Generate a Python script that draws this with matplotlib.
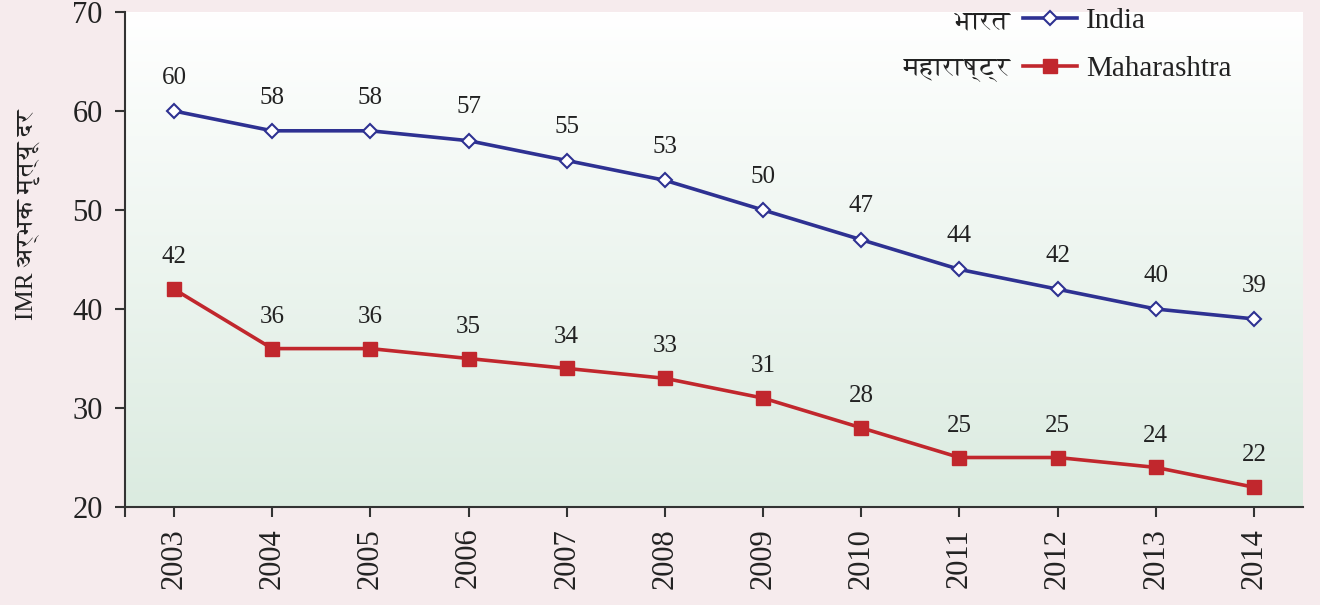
import numpy as np
import matplotlib
matplotlib.use("Agg")
import matplotlib.pyplot as plt
from matplotlib import font_manager
from matplotlib.ft2font import FT2Font
from matplotlib.colors import LinearSegmentedColormap

years = [2003, 2004, 2005, 2006, 2007, 2008, 2009, 2010, 2011, 2012, 2013, 2014]
india = [60, 58, 58, 57, 55, 53, 50, 47, 44, 42, 40, 39]
maharashtra = [42, 36, 36, 35, 34, 33, 31, 28, 25, 25, 24, 22]
yticks = [20, 30, 40, 50, 60, 70]

# look for a font with Devanagari glyphs, prefer serif / non-mono ones
found = []
for f in font_manager.fontManager.ttflist:
    try:
        if 0x092D in FT2Font(f.fname).get_charmap():
            found.append(f.name)
    except Exception:
        pass

def rank(name):
    n = name.lower()
    score = 0
    if "mono" in n:
        score += 10
    if "serif" not in n:
        score += 1
    return score

found = sorted(set(found), key=rank)
serif = "Liberation Serif"
hindi_family = [serif] + found[:1] + ["DejaVu Sans"]

plt.rcParams['font.family'] = [serif, "DejaVu Sans"]

navy = "#2e3192"
red = "#c1272d"
axis_col = "#333333"
txt = "#222222"

fig = plt.figure(figsize=(13.2, 6.05), dpi=100)
fig.patch.set_facecolor("#f6ebed")
ax = fig.add_axes([125 / 1320, 1 - 507 / 605, (1303 - 125) / 1320, (507 - 12) / 605])

# gradient background: white at top, pale green at bottom
cmap = LinearSegmentedColormap.from_list("bg", ["#dbebe0", "#ffffff"])
grad = np.linspace(0, 1, 256).reshape(-1, 1)
ax.imshow(grad, cmap=cmap, aspect="auto", origin="lower",
          extent=[2002.5, 2014.5, 20, 70], zorder=0)

ax.plot(years, india, color=navy, lw=2.6, marker="D", markersize=7,
        markerfacecolor="white", markeredgecolor=navy, markeredgewidth=1.5,
        label="India", zorder=3)
ax.plot(years, maharashtra, color=red, lw=2.6, marker="s", markersize=9.5,
        markerfacecolor=red, markeredgecolor=red,
        label="Maharashtra", zorder=3)

for x, v in zip(years, india):
    ax.annotate(str(v), (x, v), xytext=(0, 16), textcoords="offset points",
                ha="center", va="bottom", fontsize=18, color=txt)
for x, v in zip(years, maharashtra):
    ax.annotate(str(v), (x, v), xytext=(0, 15), textcoords="offset points",
                ha="center", va="bottom", fontsize=18, color=txt)

ax.set_xlim(2002.5, 2014.5)
ax.set_ylim(20, 70)
ax.set_xticks(years)
ax.set_xticklabels([str(y) for y in years], rotation=90)
ax.set_xticks([2002.5], minor=True)
ax.set_yticks(yticks)
ax.tick_params(axis="both", which="both", direction="out", length=7,
               width=1.5, color=axis_col, labelsize=22, labelcolor=txt)
ax.tick_params(axis="x", pad=8)
ax.tick_params(axis="y", pad=9)
for s in ["top", "right"]:
    ax.spines[s].set_visible(False)
for s in ["left", "bottom"]:
    ax.spines[s].set_color(axis_col)
    ax.spines[s].set_linewidth(1.5)

fig.text(28 / 1320, 1 - 215 / 605, "IMR अर्भक मृत्यू दर", rotation=90,
         ha="center", va="center", fontsize=18, color=txt,
         family=hindi_family)

leg = ax.legend(loc="upper left", bbox_to_anchor=(1023 / 1320, 1 - 8 / 605),
                bbox_transform=fig.transFigure, frameon=False, fontsize=21,
                handlelength=1.85, handletextpad=0.3, labelspacing=0.72,
                borderpad=0, borderaxespad=0)
for t in leg.get_texts():
    t.set_color(txt)

fig.text(1010 / 1320, 1 - 22 / 605, "भारत", ha="right", va="center",
         fontsize=19, color=txt, family=hindi_family)
fig.text(1010 / 1320, 1 - 71 / 605, "महाराष्ट्र", ha="right", va="center",
         fontsize=19, color=txt, family=hindi_family)

fig.savefig("out.png", dpi=100, facecolor=fig.get_facecolor())
